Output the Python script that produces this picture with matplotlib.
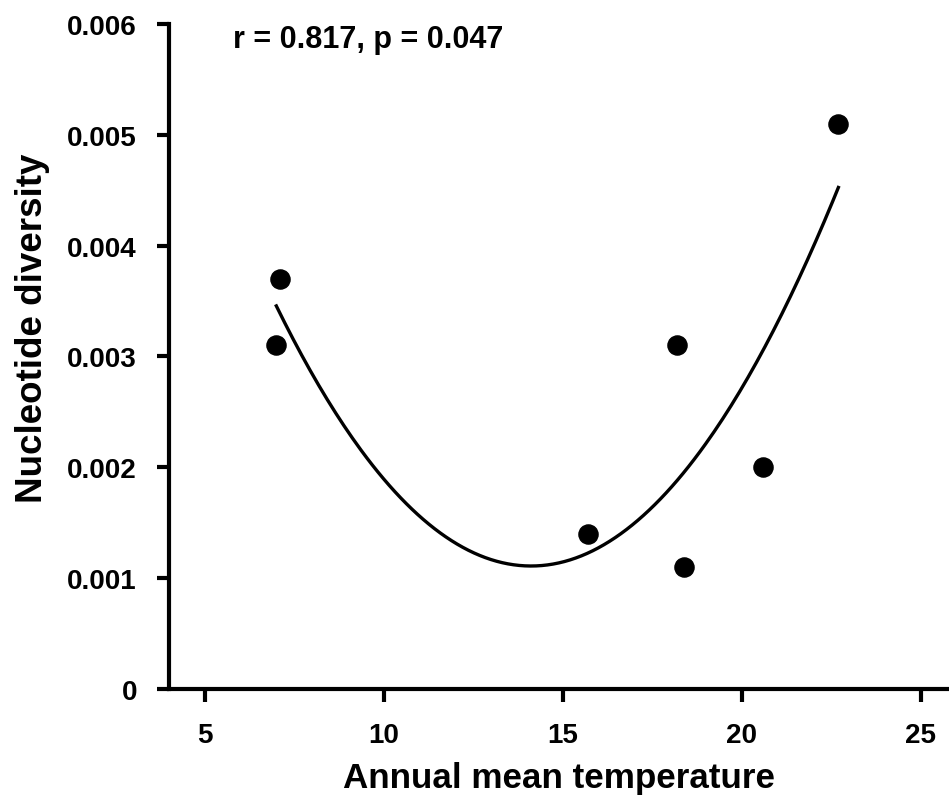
import matplotlib
matplotlib.use("Agg")
import matplotlib.pyplot as plt
import numpy as np

plt.rcParams["font.family"] = ["Liberation Sans", "DejaVu Sans"]
plt.rcParams["font.weight"] = "bold"

# data
temperature = [7.0, 7.1, 15.7, 18.2, 18.4, 20.6, 22.7]
diversity = [0.0031, 0.0037, 0.0014, 0.0031, 0.0011, 0.0020, 0.0051]
x_ticks = [5, 10, 15, 20, 25]
y_ticks = [0, 0.001, 0.002, 0.003, 0.004, 0.005, 0.006]
y_tick_labels = ["0", "0.001", "0.002", "0.003", "0.004", "0.005", "0.006"]

fig = plt.figure(figsize=(9.49, 8.03), dpi=100)
ax = fig.add_axes([0.178, 0.1407, 0.822, 0.8282])

# quadratic fit line
coef = np.polyfit(temperature, diversity, 2)
xs = np.linspace(min(temperature), max(temperature), 200)
ax.plot(xs, np.polyval(coef, xs), color="black", lw=2.4)

ax.scatter(temperature, diversity, s=190, color="black", zorder=3)

ax.set_xlim(4, 25.79)
ax.set_ylim(0, 0.006)
ax.set_xticks(x_ticks)
ax.set_yticks(y_ticks)
ax.set_yticklabels(y_tick_labels)

for side in ["top", "right"]:
    ax.spines[side].set_visible(False)
for side in ["left", "bottom"]:
    ax.spines[side].set_linewidth(3)
    ax.spines[side].set_clip_on(False)

ax.tick_params(axis="both", width=3, length=9, labelsize=20, direction="out")
ax.tick_params(axis="x", pad=15)
ax.tick_params(axis="y", pad=14)

ax.set_xlabel("Annual mean temperature", fontsize=25.2, fontweight="bold")
ax.xaxis.set_label_coords(0.5, -0.108)
ax.set_ylabel("Nucleotide diversity", fontsize=26.5, fontweight="bold")
ax.yaxis.set_label_coords(-0.153, 0.544)

ax.text(5.79, 0.00579, "r = 0.817, p = 0.047", fontsize=22, fontweight="bold",
        va="baseline", ha="left")

fig.savefig("out.png", dpi=100)
